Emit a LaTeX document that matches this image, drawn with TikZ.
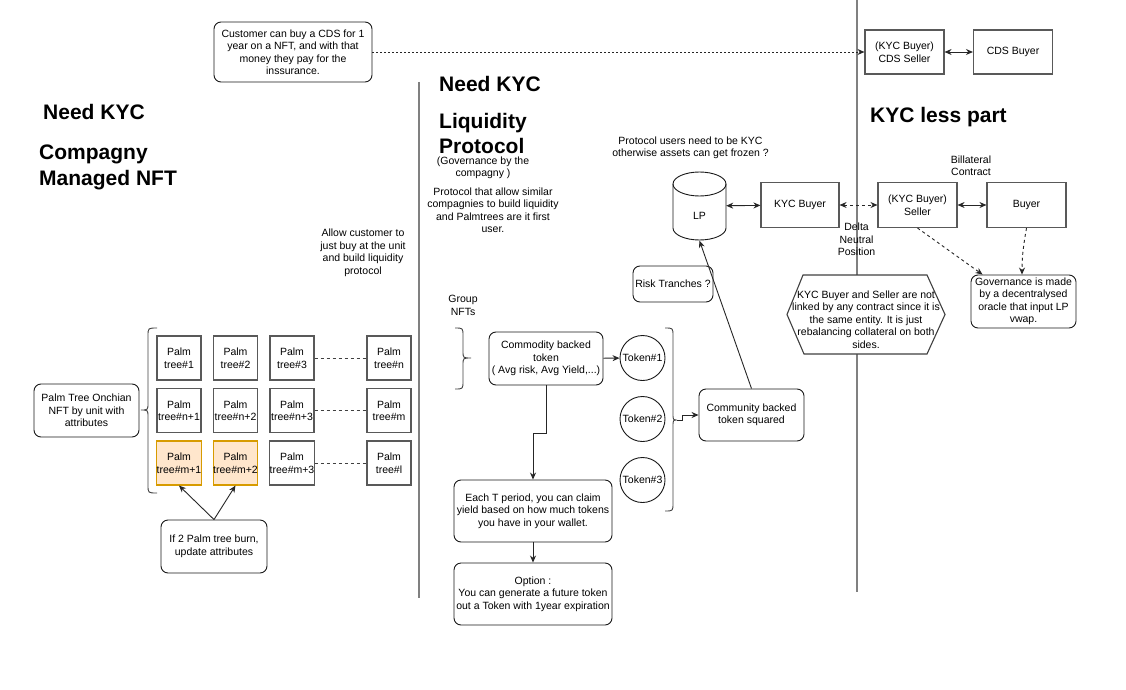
\documentclass[tikz,border=0pt]{standalone}
\usepackage{fontspec}
\setmainfont{Liberation Sans}
\usetikzlibrary{arrows.meta,backgrounds,calc}
\definecolor{burnfill}{HTML}{FFE6CC}
\definecolor{burndraw}{HTML}{D79B00}
\begin{document}
\begin{tikzpicture}[x=1pt,y=-1pt,
  every node/.style={font=\fontsize{10.5}{12.5}\selectfont, align=center, inner sep=0pt, text=black},
  sq/.style={draw=black!65, line width=1.1pt, fill=white},
  rbox/.style={draw=black!90, line width=0.9pt, fill=white, rounded corners=7pt},
  palm/.style={sq, minimum width=44, minimum height=44},
  burnt/.style={palm, fill=burnfill, draw=burndraw},
  ttl/.style={font=\fontsize{21}{26}\selectfont\bfseries, align=left, anchor=west},
  arr/.style={-{Stealth[length=7pt,width=6pt]}, line width=0.9pt, draw=black!85},
  darr/.style={{Stealth[length=7pt,width=6pt]}-{Stealth[length=7pt,width=6pt]}, line width=0.9pt, draw=black!85},
  dotted line/.style={dash pattern=on 2pt off 2pt},
  dash line/.style={dash pattern=on 3pt off 3pt},
  sepline/.style={draw=black!50, line width=1.6pt},
  bracestyle/.style={draw=black!75, line width=0.9pt}
]
\path[use as bounding box] (0,0) rectangle (1126,690);

% ---------- top note and CDS ----------
\node[rbox, minimum width=158, minimum height=60] (note) at (293,52)
  {Customer can buy a CDS for 1\\year on a NFT, and with that\\money they pay for the\\inssurance.};
\node[sq, minimum width=79, minimum height=44] (cdsseller) at (904.5,52) {(KYC Buyer)\\CDS Seller};
\node[sq, minimum width=79, minimum height=44] (cdsbuyer) at (1013,52) {CDS Buyer};
\draw[arr, dotted line] (note) -- (cdsseller);
\draw[darr] (cdsseller) -- (cdsbuyer);

% ---------- titles ----------
\node[ttl] (t1) at (43,112) {Need KYC};
\node[ttl] (t2) at (39,167.5) {Compagny\\Managed NFT};
\node[ttl] (t3) at (439,84) {Need KYC};
\node[ttl, font=\fontsize{21}{25}\selectfont\bfseries] (t4) at (439,133) {Liquidity\\Protocol};
\node[ttl] (t5) at (870,117) {KYC less part};
\node (gov1) at (483,168) {(Governance by the\\compagny )};
\node (protxt) at (493,210) {Protocol that allow similar\\compagnies to build liquidity\\and Palmtrees are it first\\user.};
\node (allow) at (363,253) {Allow customer to\\just buy at the unit\\and build liquidity\\protocol};

% ---------- palm tree grid ----------
\node[palm] (p11) at (179,358) {Palm\\tree\#1};
\node[palm] (p12) at (235.5,358) {Palm\\tree\#2};
\node[palm] (p13) at (292,358) {Palm\\tree\#3};
\node[palm] (p14) at (389,358) {Palm\\tree\#n};
\node[palm] (p21) at (179,410.5) {Palm\\tree\#n+1};
\node[palm] (p22) at (235.5,410.5) {Palm\\tree\#n+2};
\node[palm] (p23) at (292,410.5) {Palm\\tree\#n+3};
\node[palm] (p24) at (389,410.5) {Palm\\tree\#m};
\node[burnt] (p31) at (179,463) {Palm\\tree\#m+1};
\node[burnt] (p32) at (235.5,463) {Palm\\tree\#m+2};
\node[palm] (p33) at (292,463) {Palm\\tree\#m+3};
\node[palm] (p34) at (389,463) {Palm\\tree\#l};
\draw[draw=black!75, line width=0.9pt, dash line] (p13) -- (p14);
\draw[draw=black!75, line width=0.9pt, dash line] (p23) -- (p24);
\draw[draw=black!75, line width=0.9pt, dash line] (p33) -- (p34);

\node[rbox, minimum width=105, minimum height=53] (pnft) at (86.5,410.5) {Palm Tree Onchian\\NFT by unit with\\attributes};
\draw[bracestyle] (157,328) .. controls (148,328) .. (148,336) -- (148,403)
  .. controls (148,410) .. (141,410) .. controls (148,410) .. (148,417) -- (148,485)
  .. controls (148,493) .. (157,493);

\node[rbox, minimum width=106, minimum height=53] (burn) at (214,546.5) {If 2 Palm tree burn,\\update attributes};
\draw[arr] (burn.north) -- (p31.south);
\draw[arr] (burn.north) -- (p32.south);

% ---------- liquidity protocol ----------
\node (group) at (463,305.5) {Group\\NFTs};
\draw[bracestyle] (455,328) .. controls (463,328) .. (463,336) -- (463,351)
  .. controls (463,358) .. (471,358) .. controls (463,358) .. (463,365) -- (463,381)
  .. controls (463,389) .. (455,389);

\node[rbox, minimum width=114, minimum height=53] (commodity) at (546,358.5) {Commodity backed\\token\\( Avg risk, Avg Yield,...)};
\node[circle, draw=black!90, line width=0.9pt, minimum size=45] (tok1) at (642.5,358) {Token\#1};
\node[circle, draw=black!90, line width=0.9pt, minimum size=45] (tok2) at (642.5,419) {Token\#2};
\node[circle, draw=black!90, line width=0.9pt, minimum size=45] (tok3) at (642.5,480) {Token\#3};
\draw[arr] (commodity) -- (tok1);

\draw[bracestyle] (665,328) .. controls (673,328) .. (673,336) -- (673,413)
  .. controls (673,420) .. (677,420) .. controls (673,420) .. (673,427) -- (673,503)
  .. controls (673,511) .. (665,511);
\coordinate (tbtip) at (677,420);
\node[rbox, minimum width=105, minimum height=52] (community) at (751.5,415) {Community backed\\token squared};
\draw[arr] (tbtip) -- (682,420) -- (682,415) -- (community.west);

\node[rbox, minimum width=158, minimum height=62] (each) at (533,511) {Each T period, you can claim\\yield based on how much tokens\\you have in your wallet.};
\node[rbox, minimum width=158, minimum height=62] (option) at (533,594) {Option :\\You can generate a future token\\out a Token with 1year expiration};
\draw[arr] (commodity.south) -- ++(0,48) -| (each.north);
\draw[arr] (each) -- (option);

\node[rbox, minimum width=80, minimum height=36] (risk) at (673,284) {Risk Tranches ?};

% LP cylinder
\draw[draw=black!90, line width=0.9pt, fill=white] (673,184) -- (673,228)
  arc[start angle=180, end angle=0, x radius=26.5, y radius=12] -- (726,184)
  arc[start angle=0, end angle=-180, x radius=26.5, y radius=12] -- cycle;
\draw[draw=black!90, line width=0.9pt] (673,184) arc[start angle=180, end angle=0, x radius=26.5, y radius=12];
\node[minimum width=53, minimum height=69] (lp) at (699.5,206) {\smash{\raisebox{-13.5pt}{LP}}};
\draw[arr] (community.north) -- (lp.south);

\node (users) at (690.5,148) {Protocol users need to be KYC\\otherwise assets can get frozen ?};

% ---------- KYC less part ----------
\node[sq, minimum width=78, minimum height=45] (kycbuyer) at (800,205) {KYC Buyer};
\node[sq, minimum width=79, minimum height=45] (seller) at (917.5,205) {(KYC Buyer)\\Seller};
\node[sq, minimum width=79, minimum height=45] (buyer) at (1026.5,205) {Buyer};
\draw[darr] (lp) -- (kycbuyer);
\draw[darr, dash line] (kycbuyer) -- (seller);
\draw[darr] (seller) -- (buyer);
\node (bil) at (971,165.5) {Billateral\\Contract};
\node (delta) at (856.5,239.5) {Delta\\Neutral\\Position};

\node (hex) at (866,319.5) {KYC Buyer and Seller are not\\linked by any contract since it is\\the same entity. It is just\\rebalancing collateral on both\\sides.};
\node[rbox, minimum width=105, minimum height=53] (gov) at (1023.5,301.5) {Governance is made\\by a decentralysed\\oracle that input LP\\vwap.};
\draw[arr, dash line] (seller.south) -- ([xshift=12]gov.north west);
\draw[arr, dash line] (buyer.south) to[out=-100, in=90] ([xshift=-1.5]gov.north);

% ---------- background: separators and hexagon ----------
\begin{scope}[on background layer]
  \draw[sepline] (419,82) -- (419,598);
  \draw[sepline] (857,0) -- (857,592);
  \draw[draw=black!75, line width=1.1pt, fill=white] (787,314.5) -- (803,275) -- (927,275)
    -- (945,314.5) -- (927,354) -- (804,354) -- cycle;
\end{scope}
\end{tikzpicture}
\end{document}
